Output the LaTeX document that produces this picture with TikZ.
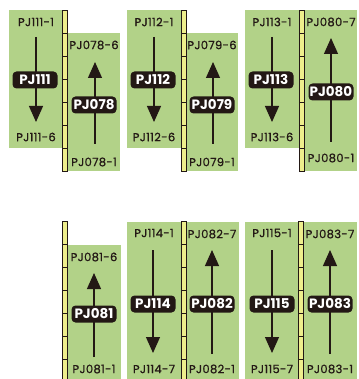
\documentclass[tikz,border=0pt]{standalone}
\usepackage{fontspec}
\setmainfont{Poppins}
\newfontfamily\pjmed{Poppins}[FakeBold=0.9, LetterSpace=3]
\usetikzlibrary{arrows.meta, positioning}

\definecolor{pjgreen}{RGB}{178,210,136}
\definecolor{pjyellow}{RGB}{238,238,140}
\definecolor{pjdark}{RGB}{35,24,21}

\begin{document}
\begin{tikzpicture}[
    x=1pt, y=-1pt,
    panel/.style={fill=pjgreen, draw=none},
    strip/.style={fill=pjyellow, draw=pjdark, line width=0.8pt},
    pin/.style={font=\pjmed\fontsize{11.5}{12}\selectfont, text=pjdark, inner sep=0pt},
    tag/.style={fill=pjdark, text=white, rounded corners=4pt, inner sep=0pt,
                minimum width=45pt, minimum height=17pt,
                font=\fontsize{13.5}{14}\selectfont\bfseries},
    arr/.style={draw=pjdark, line width=1.2pt, -{Triangle[width=14pt,length=16pt]}}
]
\clip (0,0) rectangle (358,379);

% green panels
\fill[panel] (9,10) rectangle (62,148);
\fill[panel] (67,33) rectangle (120,171);
\fill[panel] (127,10) rectangle (181,148);
\fill[panel] (186,33) rectangle (238,171);
\fill[panel] (245,10) rectangle (299,148);
\fill[panel] (304,10) rectangle (357,171);
\fill[panel] (67,245) rectangle (121,385);
\fill[panel] (127,222) rectangle (181,385);
\fill[panel] (186,222) rectangle (239,385);
\fill[panel] (245,222) rectangle (298,385);
\fill[panel] (304,222) rectangle (357,385);

% connector strips
\foreach \sx/\sy in {62/10, 181/10, 299/10, 62/221, 181/221, 298/221}{
  \draw[strip] (\sx,\sy) rectangle ++(5,161);
  \foreach \k in {1,...,6}
    \draw[pjdark, line width=0.8pt] (\sx,\sy+23*\k) -- ++(5,0);
}

% top row
\node[pin] (t111) at (36,22) {PJ111-1};
\node[pin] (b111) at (36,137) {PJ111-6};
\coordinate (s111) at (36,37); \coordinate (e111) at (36,122);
\draw[arr] (s111) -- (e111);
\node[tag] (n111) at (35,80) {PJ111};

\node[pin] (t078) at (94,45) {PJ078-6};
\node[pin] (b078) at (94,162) {PJ078-1};
\coordinate (s078) at (95,144); \coordinate (e078) at (95,62);
\draw[arr] (s078) -- (e078);
\node[tag] (n078) at (94,105) {PJ078};

\node[pin] (t112) at (154,22) {PJ112-1};
\node[pin] (b112) at (154,137) {PJ112-6};
\coordinate (s112) at (154,37); \coordinate (e112) at (154,122);
\draw[arr] (s112) -- (e112);
\node[tag] (n112) at (153,80) {PJ112};

\node[pin] (t079) at (212,45) {PJ079-6};
\node[pin] (b079) at (212,162) {PJ079-1};
\coordinate (s079) at (213,144); \coordinate (e079) at (213,62);
\draw[arr] (s079) -- (e079);
\node[tag] (n079) at (212,105) {PJ079};

\node[pin] (t113) at (272,22) {PJ113-1};
\node[pin] (b113) at (272,137) {PJ113-6};
\coordinate (s113) at (272,37); \coordinate (e113) at (272,122);
\draw[arr] (s113) -- (e113);
\node[tag] (n113) at (271,80) {PJ113};

\node[pin] (t080) at (331,22) {PJ080-7};
\node[pin] (b080) at (331,158) {PJ080-1};
\coordinate (s080) at (331,142); \coordinate (e080) at (331,38);
\draw[arr] (s080) -- (e080);
\node[tag] (n080) at (331,92) {PJ080};

% bottom row
\node[pin] (t081) at (94,257) {PJ081-6};
\node[pin] (b081) at (94,369) {PJ081-1};
\coordinate (s081) at (94,357); \coordinate (e081) at (94,273);
\draw[arr] (s081) -- (e081);
\node[tag] (n081) at (94,314) {PJ081};

\node[pin] (t114) at (154,233) {PJ114-1};
\node[pin] (b114) at (154,369) {PJ114-7};
\coordinate (s114) at (153,250); \coordinate (e114) at (153,353);
\draw[arr] (s114) -- (e114);
\node[tag] (n114) at (153,304) {PJ114};

\node[pin] (t082) at (212,234) {PJ082-7};
\node[pin] (b082) at (212,369) {PJ082-1};
\coordinate (s082) at (212,354); \coordinate (e082) at (212,250);
\draw[arr] (s082) -- (e082);
\node[tag] (n082) at (212,304) {PJ082};

\node[pin] (t115) at (272,233) {PJ115-1};
\node[pin] (b115) at (272,369) {PJ115-7};
\coordinate (s115) at (272,250); \coordinate (e115) at (272,353);
\draw[arr] (s115) -- (e115);
\node[tag] (n115) at (272,304) {PJ115};

\node[pin] (t083) at (330,234) {PJ083-7};
\node[pin] (b083) at (330,369) {PJ083-1};
\coordinate (s083) at (330,354); \coordinate (e083) at (330,250);
\draw[arr] (s083) -- (e083);
\node[tag] (n083) at (330,304) {PJ083};
\end{tikzpicture}
\end{document}
